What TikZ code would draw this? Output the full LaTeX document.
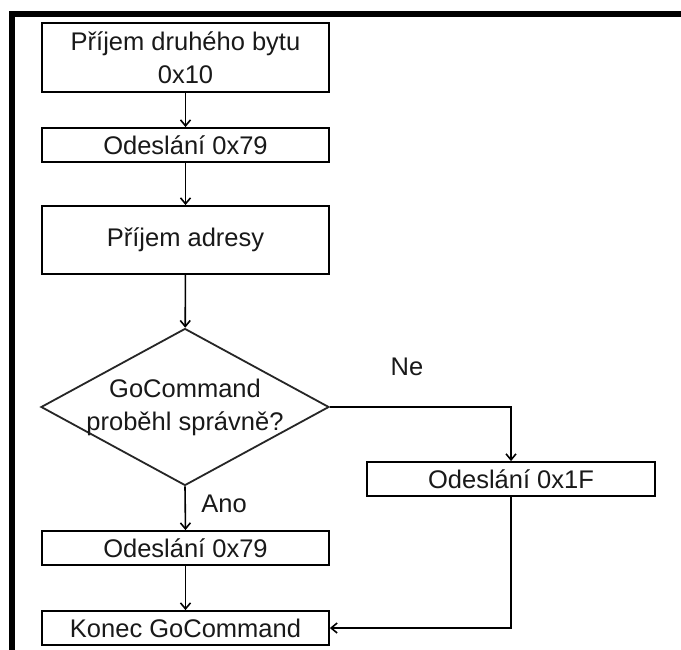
\documentclass[tikz,border=0pt]{standalone}
\usepackage{fontspec}
\setmainfont{Liberation Sans}
\usetikzlibrary{shapes.geometric,arrows.meta}

\begin{document}
\begin{tikzpicture}[x=1pt,y=-1pt,
  every node/.style={font=\fontsize{25.5}{33}\selectfont, text=black!90},
  stepbox/.style={draw=black, line width=1.8pt, rectangle, inner sep=0pt,
    minimum width=287pt, align=center},
  decision/.style={draw=black!85, line width=1.8pt, diamond, inner sep=0pt,
    minimum width=288pt, minimum height=157pt},
  flow/.style={draw=black, line width=1.6pt,
    -{Straight Barb[length=6pt,width=10pt,line width=1.6pt]}},
  tag/.style={inner sep=0pt}]

  % page area and the heavy frame along the top and left edges
  \useasboundingbox (0,0) rectangle (681,650);
  \fill[white] (0,0) rectangle (681,650);
  \draw[line width=6pt] (11.5,650) -- (11.5,14.5) -- (681,14.5);

  % flow steps
  \node[stepbox, minimum height=69pt] (recv) at (185.5,57.5) {Příjem druhého bytu\\0x10};
  \node[stepbox, minimum height=34pt] (ack1) at (185.5,145) {Odeslání 0x79};
  \node[stepbox, minimum height=68pt] (addr) at (185.5,240) {Příjem adresy};
  \node[decision, label={[align=center, inner sep=0pt]center:GoCommand\\proběhl správně?}]
       (check) at (185,407) {};
  \node[stepbox, minimum width=288pt, minimum height=34pt] (nack) at (511,479) {Odeslání 0x1F};
  \node[stepbox, minimum height=34pt] (ack2) at (185.5,548) {Odeslání 0x79};
  \node[stepbox, minimum height=34pt] (done) at (185.5,628) {Konec GoCommand};

  % branch labels
  \node[tag] (no)  at (407,367) {Ne};
  \node[tag] (yes) at (224,504) {Ano};

  % connectors
  \draw[flow] (recv) -- (ack1);
  \draw[flow] (ack1) -- (addr);
  \draw[flow] (addr) -- (check);
  \draw[flow] (check.east) -| (nack.north);
  \draw[flow] (check.south) -- (ack2.north);
  \draw[flow] (ack2) -- (done);
  \draw[flow] (nack.south) |- (done.east);
\end{tikzpicture}
\end{document}
